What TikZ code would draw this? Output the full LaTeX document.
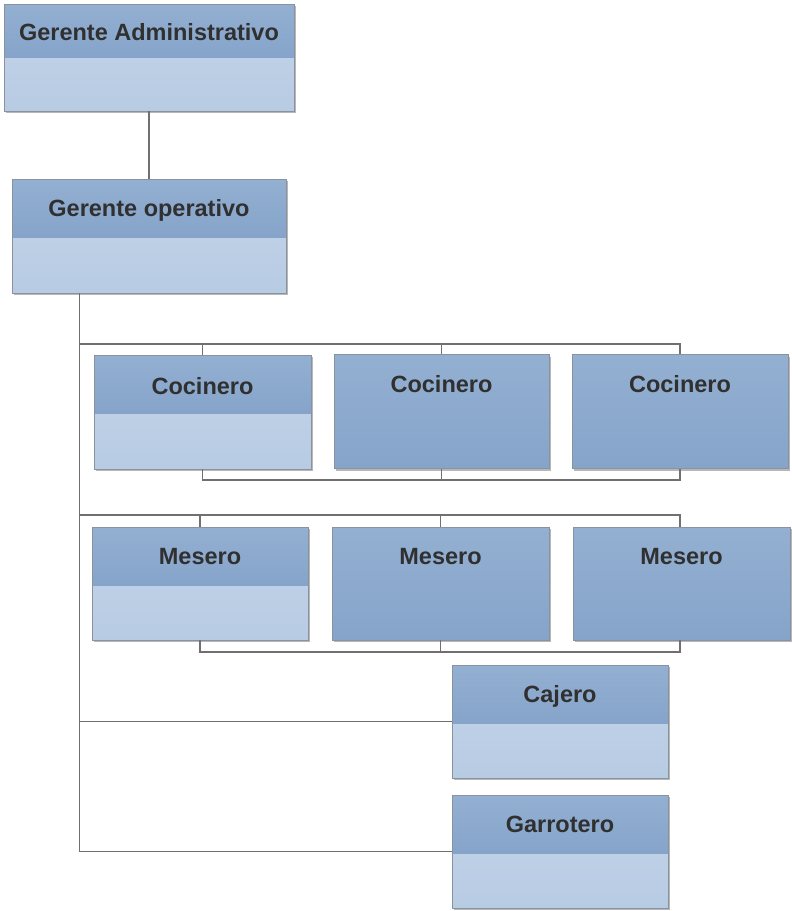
\documentclass[tikz,border=0pt]{standalone}
\usepackage{fontspec}
\setmainfont{Liberation Sans}
\usetikzlibrary{shadows}
\definecolor{hdrtop}{HTML}{93B0D2}
\definecolor{hdrbot}{HTML}{86A4CA}
\definecolor{lowtop}{HTML}{C4D5E9}
\definecolor{lowbot}{HTML}{B7CBE3}
\definecolor{edgec}{HTML}{8A939D}
\definecolor{connc}{HTML}{707070}
\definecolor{txtc}{HTML}{303030}
\tikzset{
  box/.style={draw=edgec, line width=0.8pt, inner sep=0pt, rectangle,
    minimum width=216pt, minimum height=114pt,
    drop shadow={shadow xshift=2pt, shadow yshift=-2pt, opacity=0.4, fill=black!70}},
  twotone/.style={box, path picture={
    \shade[top color=lowtop, bottom color=lowbot] (path picture bounding box.south west) rectangle (path picture bounding box.north east);
    \shade[top color=hdrtop, bottom color=hdrbot] (path picture bounding box.north west) rectangle ([yshift=-#1]path picture bounding box.north east);
  }},
  twotone/.default=58pt,
  solidbox/.style={box, top color=hdrtop, bottom color=hdrbot},
  lbl/.style={anchor=base, inner sep=0pt, text=txtc, font=\bfseries\fontsize{23.5}{28}\selectfont},
  conn/.style={draw=connc, line width=1.2pt}
}
\begin{document}
\begin{tikzpicture}[x=1pt, y=-1pt]
\useasboundingbox (0,0) rectangle (792,911);
\fill[white] (0,0) rectangle (792,911);

% coordinates for branch levels
\coordinate (cj) at (80,344);
\coordinate (cb) at (80,480);
\coordinate (mj) at (80,515);
\coordinate (mb) at (80,652);

% boxes
\node[twotone=53pt, minimum width=290pt, minimum height=107pt] (ga) at (149,57.5) {};
\node[twotone, minimum width=274pt] (go) at (149,236) {};

\coordinate (t0) at ([xshift=68pt]go.south west);

\draw[conn] (ga) -- (go);

\node[twotone, minimum width=217pt] (c1) at (202.5,412) {};
\node[solidbox, minimum width=215pt] (c2) at (441.5,411.5) {};
\node[solidbox] (c3) at (680,411.5) {};

\node[twotone, minimum height=113pt] (m1) at (200,583.5) {};
\node[solidbox, minimum width=217pt, minimum height=113pt] (m2) at (440.5,583.5) {};
\node[solidbox, minimum width=217pt, minimum height=113pt] (m3) at (681.5,583.5) {};

\node[twotone, minimum height=113pt] (caj) at (560,721.5) {};
\node[twotone, minimum height=113pt] (gar) at (560,851.5) {};

% connectors
\draw[conn] (t0) |- (gar.west);
\draw[conn] (t0 |- caj.west) -- (caj.west);
\draw[conn] (t0 |- cj) -| (c2.north);
\draw[conn] (c1.north) |- (c3.north |- cj) -- (c3.north);
\draw[conn] (c1.south) |- (c3.south |- cb) -- (c3.south);
\draw[conn] (c2.south) -- (c2.south |- cb);
\draw[conn] (t0 |- mj) -| (m2.north);
\draw[conn] (m1.north) |- (680,515) -- (680,527);
\draw[conn] (m1.south) |- (680,652) -- (680,640);
\draw[conn] (m2.south) -- (m2.south |- mb);

% labels
\node[lbl] at ([yshift=-37pt]ga.north) {Gerente Administrativo};
\node[lbl] at ([yshift=-38pt]go.north) {Gerente operativo};
\node[lbl] at ([yshift=-39.5pt]c1.north) {Cocinero};
\node[lbl] at ([yshift=-38pt]c2.north) {Cocinero};
\node[lbl] at ([yshift=-38pt]c3.north) {Cocinero};
\node[lbl] at ([yshift=-38pt]m1.north) {Mesero};
\node[lbl] at ([yshift=-38pt]m2.north) {Mesero};
\node[lbl] at ([yshift=-38pt]m3.north) {Mesero};
\node[lbl] at ([yshift=-38pt]caj.north) {Cajero};
\node[lbl] at ([yshift=-38pt]gar.north) {Garrotero};
\end{tikzpicture}
\end{document}
